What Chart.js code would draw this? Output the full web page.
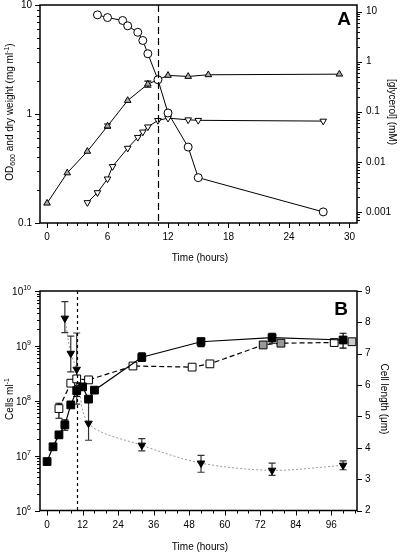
<!DOCTYPE html>
<html><head><meta charset="utf-8">
<script src="https://cdn.jsdelivr.net/npm/chart.js@4.4.1/dist/chart.umd.min.js"></script>
<style>
html,body{margin:0;padding:0;background:#fff;}
#wrap{position:relative;width:400px;height:553px;overflow:hidden;font-family:'Liberation Sans',Arial,sans-serif;color:#000;}
canvas{position:absolute;left:0;}
.t{position:absolute;font-size:10px;white-space:nowrap;line-height:1;transform-origin:center center;}
.t sub,.t sup{font-size:7px;line-height:0;}
.t sub{vertical-align:-2px;}
.t sup{vertical-align:4px;}
.rl{transform:translate(-50%,-50%) rotate(-90deg);}
.rr{transform:translate(-50%,-50%) rotate(90deg);}
.c{transform:translate(-50%,-50%);}
.big{font-weight:bold;font-size:19px;}
</style></head>
<body><div id="wrap">
<canvas id="cA" width="400" height="275" style="top:0;width:400px;height:275px"></canvas>
<canvas id="cB" width="400" height="278" style="top:275px;width:400px;height:278px"></canvas>
<div class="t rl" style="left:10px;top:112px">OD<sub>600</sub> and dry weight (mg ml<sup>-1</sup>)</div>
<div class="t rr" style="left:392px;top:112px">[glycerol] (mM)</div>
<div class="t c" style="left:200px;top:258px">Time (hours)</div>
<div class="t c big" style="left:344px;top:18px">A</div>
<div class="t rl" style="left:10px;top:399px">Cells ml<sup>-1</sup></div>
<div class="t rr" style="left:384px;top:399px">Cell length (μm)</div>
<div class="t c" style="left:200px;top:547px">Time (hours)</div>
<div class="t c big" style="left:341px;top:308px">B</div>
</div>
<script>
// ---------- Panel A data ----------
const timeGlycerol = [5, 6, 7.5, 8, 9, 9.5, 10, 11, 12, 14, 15, 27.4];
const glycerolMM   = [8.6, 7.6, 6.65, 5.2, 3.86, 2.65, 1.44, 0.436, 0.0946, 0.0197, 0.00483, 0.001];
const timeOD       = [0, 2, 4, 6, 8, 10, 11, 12, 14, 16, 29];
const od600        = [0.152, 0.288, 0.454, 0.775, 1.33, 1.88, 2.06, 2.26, 2.21, 2.29, 2.32];
const od600ErrLow  = [null, null, null, 0.74, null, 1.76, null, null, null, null, null];
const od600ErrHigh = [null, null, null, 0.81, null, 2.0, null, null, null, null, null];
const timeDry      = [4, 5, 6, 6.5, 8, 9, 9.5, 10, 11, 12, 14, 15, 27.4];
const dryWeight    = [0.154, 0.19, 0.254, 0.33, 0.486, 0.611, 0.684, 0.762, 0.873, 0.916, 0.885, 0.875, 0.861];
const xTicksA      = [0, 6, 12, 18, 24, 30];
const yTicksALeft  = [0.1, 1, 10];
const yTicksARight = [0.001, 0.01, 0.1, 1, 10];
const markerTimeA  = 11;

// ---------- Panel B data ----------
const timeCellsA   = [0, 2, 4, 6, 8, 10, 12, 14, 16, 32, 52, 76, 100];
const cellsA       = [7.8e6, 1.45e7, 2.39e7, 3.64e7, 8.4e7, 1.53e8, 1.79e8, 1.07e8, 1.56e8, 6.2e8, 1.19e9, 1.41e9, 1.28e9];
const cellsAErrLow = [null, null, null, 2.9e7, null, 1.2e8, null, null, null, 5.2e8, 9.7e8, 1.12e9, 9.1e8];
const cellsAErrHigh= [null, null, null, 4.5e7, null, 1.9e8, null, null, null, 7.5e8, 1.39e9, 1.7e9, 1.7e9];
const timeCellsB   = [4, 8, 10, 14, 29, 49, 55, 73, 79, 97, 103];
const cellsB       = [7.2e7, 2.09e8, 2.5e8, 2.4e8, 4.3e8, 4.1e8, 4.7e8, 1.04e9, 1.12e9, 1.15e9, 1.19e9];
const cellsBErrLow = [4.8e7, null, null, null, null, null, null, null, null, null, null];
const cellsBErrHigh= [9.0e7, null, null, null, null, null, null, null, null, null, null];
const timeLength   = [6, 8, 10, 14, 32, 52, 76, 100];
const cellLength   = [8.13, 7.01, 6.5, 4.78, 4.08, 3.51, 3.28, 3.44];
const lengthErrLow = [7.67, 6.42, 5.39, 4.24, 3.9, 3.22, 3.12, 3.30];
const lengthErrHigh= [8.66, 7.56, 7.66, 5.57, 4.29, 3.76, 3.51, 3.58];
const xTicksB      = [0, 12, 24, 36, 48, 60, 72, 84, 96];
const yTicksBLeft  = [1e6, 1e7, 1e8, 1e9, 1e10];
const yTicksBRight = [2, 3, 4, 5, 6, 7, 8, 9];
const markerTimeB  = 10;

Chart.defaults.font.family = "'Liberation Sans', Arial, sans-serif";
Chart.defaults.font.size = 10;
Chart.defaults.color = '#000';

function pts(xs, ys){ return xs.map((x, i) => ({x: x, y: ys[i]})); }
function logMinor(min, max){
  const out = [];
  for (let e = Math.floor(Math.log10(min)); e <= Math.ceil(Math.log10(max)); e++){
    for (let m = 1; m < 10; m++){
      const v = m * Math.pow(10, e);
      if (v >= min * 0.9999 && v <= max * 1.0001) out.push(v);
    }
  }
  return out;
}
function linMinor(min, max, step){
  const out = [];
  for (let v = Math.ceil(min / step) * step; v <= max + 1e-9; v += step) out.push(v);
  return out;
}
function setTicks(arr){ return s => { s.ticks = arr.map(v => ({value: v})); }; }
function fitW(w){ return s => { s.width = w; s.paddingTop = 0; s.paddingBottom = 0; }; }
function fitH(h){ return s => { s.height = h; s.paddingLeft = 0; s.paddingRight = 0; }; }

const framePlugin = {
  id: 'frame',
  beforeDatasetsDraw(chart, args, opts){
    const ctx = chart.ctx;
    ctx.save();
    ctx.lineWidth = 1.2;
    chart.data.datasets.forEach((ds, i) => {
      if (!ds.errLow) return;
      const meta = chart.getDatasetMeta(i);
      const ys = chart.scales[ds.yAxisID];
      ctx.strokeStyle = ds.errColor || '#000';
      ds.errLow.forEach((lo, j) => {
        if (lo == null) return;
        const hi = ds.errHigh[j];
        const x = meta.data[j].x;
        const y1 = ys.getPixelForValue(lo), y2 = ys.getPixelForValue(hi);
        ctx.beginPath();
        ctx.moveTo(x, y1); ctx.lineTo(x, y2);
        ctx.moveTo(x - 3.5, y1); ctx.lineTo(x + 3.5, y1);
        ctx.moveTo(x - 3.5, y2); ctx.lineTo(x + 3.5, y2);
        ctx.stroke();
      });
    });
    ctx.restore();
  },
  afterDraw(chart, args, opts){
    const ctx = chart.ctx, a = chart.chartArea;
    ctx.save();
    ctx.strokeStyle = '#000';
    if (opts.vline){
      const xs = chart.scales.x;
      const px = Math.round(xs.getPixelForValue(opts.vline.value)) + 0.5;
      ctx.lineWidth = 1.2;
      ctx.setLineDash(opts.vline.dash);
      ctx.beginPath(); ctx.moveTo(px, a.top); ctx.lineTo(px, a.bottom); ctx.stroke();
      ctx.setLineDash([]);
    }
    (opts.ticks || []).forEach(t => {
      const s = chart.scales[t.axis];
      ctx.lineWidth = 1;
      t.values.forEach(v => {
        const p = Math.round(s.getPixelForValue(v)) + 0.5;
        ctx.beginPath();
        if (s.position === 'left'){ ctx.moveTo(a.left, p); ctx.lineTo(a.left - t.len, p); }
        else if (s.position === 'right'){ ctx.moveTo(a.right, p); ctx.lineTo(a.right + t.len, p); }
        else { ctx.moveTo(p, a.bottom); ctx.lineTo(p, a.bottom + t.len); }
        ctx.stroke();
      });
    });
    ctx.lineWidth = 1.5;
    ctx.strokeRect(a.left, a.top, a.right - a.left, a.bottom - a.top);
    if (opts.pow){
      const s = chart.scales[opts.pow.axis];
      ctx.fillStyle = '#000';
      opts.pow.values.forEach(v => {
        const e = String(Math.round(Math.log10(v)));
        const y = s.getPixelForValue(v);
        ctx.font = "7px 'Liberation Sans', Arial, sans-serif";
        const ew = ctx.measureText(e).width;
        ctx.textAlign = 'left'; ctx.textBaseline = 'alphabetic';
        ctx.fillText(e, opts.pow.right - ew, y - 1);
        ctx.font = "10px 'Liberation Sans', Arial, sans-serif";
        ctx.textAlign = 'right';
        ctx.fillText('10', opts.pow.right - ew, y + 4);
      });
    }
    ctx.restore();
  }
};

const noGrid = {display: false, drawTicks: false};

// ---------- Chart A ----------
const axA = {xmin: -0.7, xmax: 30.75, lmin: 0.1, lmax: 10, rmin: 0.000644, rmax: 13.55};
new Chart(document.getElementById('cA'), {
  type: 'line',
  data: {datasets: [
    {data: pts(timeGlycerol, glycerolMM), yAxisID: 'yR', borderColor: '#000', borderWidth: 1,
     pointStyle: 'circle', pointRadius: 4, pointBackgroundColor: '#fff', pointBorderColor: '#000', pointBorderWidth: 1},
    {data: pts(timeOD, od600), yAxisID: 'yL', borderColor: '#000', borderWidth: 1,
     pointStyle: 'triangle', pointRadius: 3.8, pointBackgroundColor: '#aaa', pointBorderColor: '#000', pointBorderWidth: 1,
     errLow: od600ErrLow, errHigh: od600ErrHigh},
    {data: pts(timeDry, dryWeight), yAxisID: 'yL', borderColor: '#000', borderWidth: 1,
     pointStyle: 'triangle', pointRotation: 180, pointRadius: 3.8, pointBackgroundColor: '#fff', pointBorderColor: '#000', pointBorderWidth: 1}
  ]},
  options: {
    responsive: false, animation: false, events: [],
    layout: {padding: {top: 3, left: 0, right: 0, bottom: 0}},
    plugins: {legend: {display: false}, tooltip: {enabled: false},
      frame: {
        vline: {value: markerTimeA, dash: [7, 4]},
        ticks: [
          {axis: 'x', values: linMinor(axA.xmin, axA.xmax, 1), len: 3},
          {axis: 'x', values: xTicksA, len: 5},
          {axis: 'yL', values: logMinor(axA.lmin, axA.lmax), len: 3},
          {axis: 'yL', values: yTicksALeft, len: 5},
          {axis: 'yR', values: logMinor(axA.rmin, axA.rmax), len: 3},
          {axis: 'yR', values: yTicksARight, len: 5}
        ]
      }
    },
    scales: {
      x: {type: 'linear', min: axA.xmin, max: axA.xmax, grid: noGrid, border: {display: false},
          afterBuildTicks: setTicks(xTicksA), ticks: {padding: 8, maxRotation: 0, autoSkip: false},
          afterFit: fitH(52)},
      yL: {type: 'logarithmic', position: 'left', min: axA.lmin, max: axA.lmax, grid: noGrid, border: {display: false},
          afterBuildTicks: setTicks(yTicksALeft), ticks: {padding: 8, autoSkip: false, callback: v => String(v)},
          afterFit: fitW(40)},
      yR: {type: 'logarithmic', position: 'right', min: axA.rmin, max: axA.rmax, grid: noGrid, border: {display: false},
          afterBuildTicks: setTicks(yTicksARight), ticks: {padding: 9, autoSkip: false, callback: v => String(v)},
          afterFit: fitW(43)}
    }
  },
  plugins: [framePlugin]
});

// ---------- Chart B ----------
const axB = {xmin: -2.4, xmax: 104.7, lmin: 1e6, lmax: 1e10, rmin: 2, rmax: 9};
new Chart(document.getElementById('cB'), {
  type: 'line',
  data: {datasets: [
    {data: pts(timeCellsA, cellsA), yAxisID: 'yL', borderColor: '#000', borderWidth: 1.2,
     pointStyle: 'rect', pointRadius: 5.5, pointBackgroundColor: '#000', pointBorderColor: '#000', pointBorderWidth: 1,
     errLow: cellsAErrLow, errHigh: cellsAErrHigh},
    {data: pts(timeCellsB, cellsB), yAxisID: 'yL', borderColor: '#000', borderWidth: 1.2, borderDash: [5, 3],
     pointStyle: 'rect', pointRadius: 5.5, pointBackgroundColor: ['#fff','#fff','#fff','#fff','#fff','#fff','#fff','#999','#999','#fff','#ccc'],
     pointBorderColor: '#000', pointBorderWidth: 1,
     errLow: cellsBErrLow, errHigh: cellsBErrHigh},
    {data: pts(timeLength, cellLength), yAxisID: 'yR', borderColor: '#999', borderWidth: 1, borderDash: [2, 2], tension: 0.3,
     pointStyle: 'triangle', pointRotation: 180, pointRadius: 4.3, pointBackgroundColor: '#000', pointBorderColor: '#000', pointBorderWidth: 1,
     errLow: lengthErrLow, errHigh: lengthErrHigh, errColor: '#333'}
  ]},
  options: {
    responsive: false, animation: false, events: [],
    layout: {padding: {top: 16, left: 0, right: 0, bottom: 0}},
    plugins: {legend: {display: false}, tooltip: {enabled: false},
      frame: {
        vline: {value: markerTimeB, dash: [3, 3]},
        ticks: [
          {axis: 'x', values: linMinor(0, axB.xmax, 4), len: 3},
          {axis: 'x', values: xTicksB, len: 5},
          {axis: 'yL', values: logMinor(axB.lmin, axB.lmax), len: 3},
          {axis: 'yL', values: yTicksBLeft, len: 5},
          {axis: 'yR', values: yTicksBRight, len: 5}
        ],
        pow: {axis: 'yL', values: yTicksBLeft, right: 31}
      }
    },
    scales: {
      x: {type: 'linear', min: axB.xmin, max: axB.xmax, grid: noGrid, border: {display: false},
          afterBuildTicks: setTicks(xTicksB), ticks: {padding: 9, maxRotation: 0, autoSkip: false},
          afterFit: fitH(42.5)},
      yL: {type: 'logarithmic', position: 'left', min: axB.lmin, max: axB.lmax, grid: noGrid, border: {display: false},
          afterBuildTicks: setTicks(yTicksBLeft), ticks: {display: false},
          afterFit: fitW(40)},
      yR: {type: 'linear', position: 'right', min: axB.rmin, max: axB.rmax, grid: noGrid, border: {display: false},
          afterBuildTicks: setTicks(yTicksBRight), ticks: {padding: 8, autoSkip: false},
          afterFit: fitW(43)}
    }
  },
  plugins: [framePlugin]
});
</script>
</body></html>
